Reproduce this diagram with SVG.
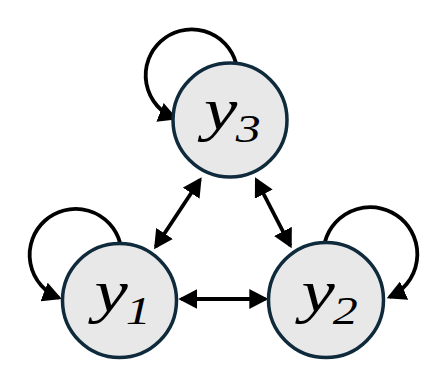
<svg xmlns="http://www.w3.org/2000/svg" width="447" height="388" viewBox="0 0 447 388">
<style>
.node{fill:#e8e8e8;stroke:#0e2a3b;stroke-width:3.5}
.edge{fill:none;stroke:#000;stroke-width:3.8}
.lab{font-family:"Liberation Serif","Times New Roman",serif;font-style:italic;fill:#000}
.main{font-size:60px}
.sub{font-size:40px}
</style>
<defs>
<marker id="ah" markerUnits="userSpaceOnUse" markerWidth="19" markerHeight="20" viewBox="0 0 19 20" refX="16" refY="10" orient="auto-start-reverse">
<path d="M0,0 L19,10 L0,20 z" fill="#000"/>
</marker>
</defs>
<g id="connectors">
<path class="edge" d="M155.7,246.8 L200,179.8" marker-start="url(#ah)" marker-end="url(#ah)"/>
<path class="edge" d="M256.4,180 L290.3,245.6" marker-start="url(#ah)" marker-end="url(#ah)"/>
<path class="edge" d="M181.3,299 L265.3,299" marker-start="url(#ah)" marker-end="url(#ah)"/>
<path class="edge" d="M235.9,62.7 A46,46 0 1 0 174.9,118.2" marker-end="url(#ah)"/>
<path class="edge" d="M120,242.7 A46,46 0 1 0 59,297.8" marker-end="url(#ah)"/>
<path class="edge" d="M325,241.7 A47,47 0 1 1 389.5,297.1" marker-end="url(#ah)"/>
</g>
<g id="y3">
<circle class="node" cx="230" cy="120" r="57"/>
<text class="lab" transform="translate(204,129.3) scale(1.25,1)"><tspan class="main" x="0" y="0">y</tspan><tspan class="sub" x="25.4" y="12.2">3</tspan></text>
</g>
<g id="y1">
<circle class="node" cx="119.5" cy="300.5" r="57"/>
<text class="lab" transform="translate(94.6,311.3) scale(1.25,1)"><tspan class="main" x="0" y="0">y</tspan><tspan class="sub" x="25" y="12.7">1</tspan></text>
</g>
<g id="y2">
<circle class="node" cx="326" cy="300" r="57.5"/>
<text class="lab" transform="translate(301.5,310.5) scale(1.25,1)"><tspan class="main" x="0" y="0">y</tspan><tspan class="sub" x="25" y="13">2</tspan></text>
</g>
</svg>
